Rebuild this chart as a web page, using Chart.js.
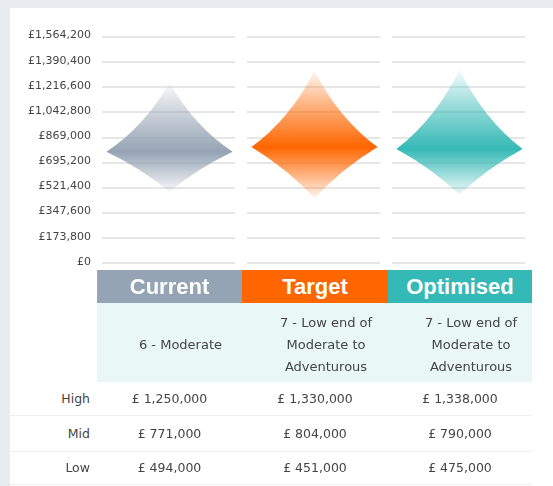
<!DOCTYPE html>
<html>
<head>
<meta charset="utf-8">
<script src="https://cdn.jsdelivr.net/npm/chart.js@4"></script>
<style>
  html, body { margin:0; padding:0; }
  body { width:553px; height:486px; background:#e8ebef; position:relative; overflow:hidden; font-family:"DejaVu Sans", sans-serif; }
  #panel { position:absolute; left:10px; top:8px; width:543px; height:478px; background:#fff; }
  #chartBox { position:absolute; left:10px; top:8px; width:543px; height:268px; }
  #chartBox canvas { display:block; }
  .hdr { position:absolute; top:270px; height:33px; line-height:33px; text-align:center; color:#fff; font-family:"Liberation Sans", Arial, sans-serif; font-weight:bold; font-size:22px; }
  #descBg { position:absolute; left:97px; top:303px; width:435px; height:79px; background:#e9f7f7; }
  .desc { position:absolute; top:303px; height:79px; display:flex; align-items:center; justify-content:center; text-align:center; font-size:13px; line-height:22px; color:#444; padding-top:5px; padding-left:22px; box-sizing:border-box; }
  .sep { position:absolute; left:10px; width:522px; height:1px; background:#eeeeee; }
  .rowLbl { position:absolute; left:10px; width:80px; text-align:right; font-size:12.5px; color:#444; }
  .val { position:absolute; text-align:center; font-size:12.5px; color:#444; }
</style>
</head>
<body>
<div id="panel"></div>
<div id="chartBox"><canvas id="c" width="543" height="268"></canvas></div>
<div id="table"></div>
<script>
// ---- data ----
const categories = ['Current', 'Target', 'Optimised'];
const highValues = [1250000, 1330000, 1338000];
const midValues  = [771000, 804000, 790000];
const lowValues  = [494000, 451000, 475000];
const riskProfiles = [
  ['6 - Moderate'],
  ['7 - Low end of', 'Moderate to', 'Adventurous'],
  ['7 - Low end of', 'Moderate to', 'Adventurous']
];
const yTickValues = [0, 173800, 347600, 521400, 695200, 869000, 1042800, 1216600, 1390400, 1564200];
const rowLabels = ['High', 'Mid', 'Low'];
const seriesColors = [[149,164,180], [255,102,0], [53,185,182]];

const fmtGBP = v => '£' + v.toLocaleString('en-GB');

// gridline segments per category column
const gridPlugin = {
  id: 'segGrid',
  beforeDatasetsDraw(chart) {
    const ctx = chart.ctx, ys = chart.scales.y, xs = chart.scales.x;
    const colW = (chart.chartArea.right - chart.chartArea.left) / categories.length;
    ctx.save();
    ctx.strokeStyle = '#e6e6e6';
    ctx.lineWidth = 2;
    ys.ticks.forEach(t => {
      const py = Math.round(ys.getPixelForValue(t.value));
      categories.forEach((c, i) => {
        const cx = xs.getPixelForValue(i);
        ctx.beginPath();
        ctx.moveTo(cx - colW / 2 + 5, py);
        ctx.lineTo(cx + colW / 2 - 7, py);
        ctx.stroke();
      });
    });
    ctx.restore();
  }
};

// diamond (range) shapes drawn on the floating bar elements
const diamondPlugin = {
  id: 'diamonds',
  afterDatasetsDraw(chart) {
    const ctx = chart.ctx, ys = chart.scales.y;
    const meta = chart.getDatasetMeta(0);
    meta.data.forEach((bar, i) => {
      const p = bar.getProps(['x', 'y', 'base', 'width'], true);
      const cx = p.x, w = p.width / 2;
      const top = Math.min(p.y, p.base), bot = Math.max(p.y, p.base);
      const mid = ys.getPixelForValue(midValues[i]);
      const [r, g, b] = seriesColors[i];
      const grad = ctx.createLinearGradient(0, top, 0, bot);
      const ms = (mid - top) / (bot - top);
      grad.addColorStop(0, `rgba(${r},${g},${b},0.05)`);
      grad.addColorStop(ms * 0.5, `rgba(${r},${g},${b},0.55)`);
      grad.addColorStop(ms, `rgba(${r},${g},${b},1)`);
      grad.addColorStop(1, `rgba(${r},${g},${b},0.08)`);
      const hu = mid - top, hl = bot - mid;
      const cu = 0.38, cl = 0.43;
      ctx.save();
      ctx.fillStyle = grad;
      ctx.beginPath();
      ctx.moveTo(cx, top);
      ctx.quadraticCurveTo(cx + w * cu, mid - hu * cu, cx + w, mid);
      ctx.quadraticCurveTo(cx + w * cl, mid + hl * cl, cx, bot);
      ctx.quadraticCurveTo(cx - w * cl, mid + hl * cl, cx - w, mid);
      ctx.quadraticCurveTo(cx - w * cu, mid - hu * cu, cx, top);
      ctx.closePath();
      ctx.fill();
      ctx.restore();
    });
  }
};

new Chart(document.getElementById('c'), {
  type: 'bar',
  data: {
    labels: categories,
    datasets: [{
      data: categories.map((c, i) => [lowValues[i], highValues[i]]),
      backgroundColor: 'rgba(0,0,0,0)',
      borderWidth: 0,
      categoryPercentage: 1,
      barPercentage: 0.87
    }]
  },
  options: {
    responsive: false,
    animation: false,
    events: [],
    layout: { padding: { top: 29, bottom: 5, right: 21, left: 0 } },
    plugins: { legend: { display: false }, tooltip: { enabled: false } },
    scales: {
      x: { display: false, offset: true },
      y: {
        min: 0,
        max: yTickValues[yTickValues.length - 1],
        afterBuildTicks: s => { s.ticks = yTickValues.map(v => ({ value: v })); },
        afterFit: s => { s.width = 87; },
        grid: { display: false, drawTicks: false },
        border: { display: false },
        ticks: {
          padding: 6,
          labelOffset: -1.5,
          color: '#444',
          font: { family: 'DejaVu Sans', size: 11 },
          callback: v => fmtGBP(v)
        }
      }
    }
  },
  plugins: [gridPlugin, diamondPlugin]
});

// ---- table below the chart ----
const tbl = document.getElementById('table');
const colLeft = [97, 242, 388], colW = [145, 146, 144];
let html = '<div id="descBg"></div>';
categories.forEach((c, i) => {
  const [r, g, b] = seriesColors[i];
  html += `<div class="hdr" style="left:${colLeft[i]}px;width:${colW[i]}px;background:rgb(${r},${g},${b})">${c}</div>`;
  html += `<div class="desc" style="left:${colLeft[i]}px;width:${colW[i]}px"><div>${riskProfiles[i].join('<br>')}</div></div>`;
});
const rowVals = [highValues, midValues, lowValues];
const rowTop = [382, 416, 451], rowH = [33, 35, 33];
rowLabels.forEach((lbl, k) => {
  const t = rowTop[k], h = rowH[k];
  html += `<div class="rowLbl" style="top:${t}px;height:${h}px;line-height:${h}px">${lbl}</div>`;
  categories.forEach((c, i) => {
    html += `<div class="val" style="left:${colLeft[i]}px;width:${colW[i]}px;top:${t}px;height:${h}px;line-height:${h}px">£ ${rowVals[k][i].toLocaleString('en-GB')}</div>`;
  });
  html += `<div class="sep" style="top:${t + h}px"></div>`;
});
tbl.innerHTML = html;
</script>
</body>
</html>
